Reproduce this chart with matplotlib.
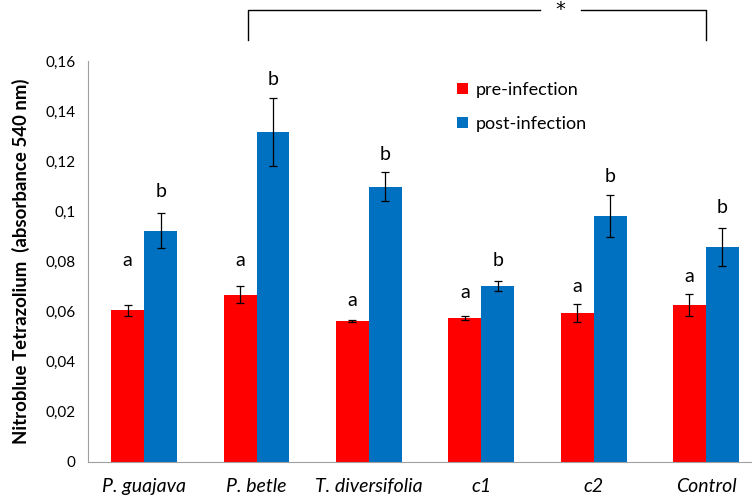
import numpy as np
import matplotlib.pyplot as plt

plt.rcParams['font.family'] = ['Lato', 'DejaVu Sans']

groups = ['P. guajava', 'P. betle', 'T. diversifolia', 'c1', 'c2', 'Control']
pre = [0.0605, 0.0668, 0.0562, 0.0573, 0.0595, 0.0626]
pre_err = [0.0021, 0.0035, 0.0003, 0.0008, 0.0035, 0.0043]
post = [0.0923, 0.1317, 0.1099, 0.0703, 0.0982, 0.0858]
post_err = [0.0070, 0.0137, 0.0058, 0.0020, 0.0083, 0.0077]

pre_letters = ['a'] * 6
post_letters = ['b'] * 6
pre_letter_y = [0.0806, 0.0806, 0.0646, 0.0675, 0.0699, 0.0742]
post_letter_y = [0.1080, 0.1526, 0.1229, 0.0806, 0.1139, 0.1015]

fig = plt.figure(figsize=(7.52, 4.98), dpi=100)
ax = fig.add_axes([88 / 752, (498 - 461.5) / 498, (752 - 88) / 752, 400 / 498])

x = np.arange(len(groups))
w = 0.293
ax.bar(x - w / 2, pre, w, color='#FF0000', label='pre-infection', zorder=2)
ax.bar(x + w / 2, post, w, color='#0070C0', label='post-infection', zorder=2)
ax.errorbar(x - w / 2, pre, yerr=pre_err, fmt='none', ecolor='black', elinewidth=0.9, capsize=3, capthick=0.9, zorder=3)
ax.errorbar(x + w / 2, post, yerr=post_err, fmt='none', ecolor='black', elinewidth=0.9, capsize=3, capthick=0.9, zorder=3)

for i in range(len(groups)):
    ax.text(x[i] - w / 2, pre_letter_y[i], pre_letters[i], ha='center', va='center', fontsize=14)
    ax.text(x[i] + w / 2, post_letter_y[i], post_letters[i], ha='center', va='center', fontsize=14)

ax.set_xlim(-0.5, 5.41)
ax.set_ylim(0, 0.16)
ax.set_yticks(np.arange(0, 0.161, 0.02))
ax.set_yticklabels(['0', '0,02', '0,04', '0,06', '0,08', '0,1', '0,12', '0,14', '0,16'], fontsize=11)
ax.set_xticks(x)
ax.set_xticklabels(groups, fontsize=14, style='italic')
ax.tick_params(length=0)
ax.tick_params(axis='y', pad=9)
ax.tick_params(axis='x', pad=12)
for s in ['top', 'right']:
    ax.spines[s].set_visible(False)
for s in ['left', 'bottom']:
    ax.spines[s].set_color('#A0A0A0')
ax.set_ylabel('Nitroblue Tetrazolium  (absorbance 540 nm)', fontsize=13.4, fontweight='bold', labelpad=11)

ax.legend(loc='upper left', bbox_to_anchor=(0.532, 0.99), frameon=False, fontsize=13,
          handlelength=0.6, handleheight=0.6, handletextpad=0.4, labelspacing=1.0)

# significance bracket between P. betle and Control
yb, yt = 0.1684, 0.1806
ax.plot([0.92, 0.92, 3.52], [yb, yt, yt], color='black', lw=1, clip_on=False)
ax.plot([3.89, 5.0, 5.0], [yt, yt, yb], color='black', lw=1, clip_on=False)
ax.text(3.705, yt, '*', ha='center', va='center', fontsize=14, family='DejaVu Sans', clip_on=False)

fig.savefig('out.png', dpi=100)
